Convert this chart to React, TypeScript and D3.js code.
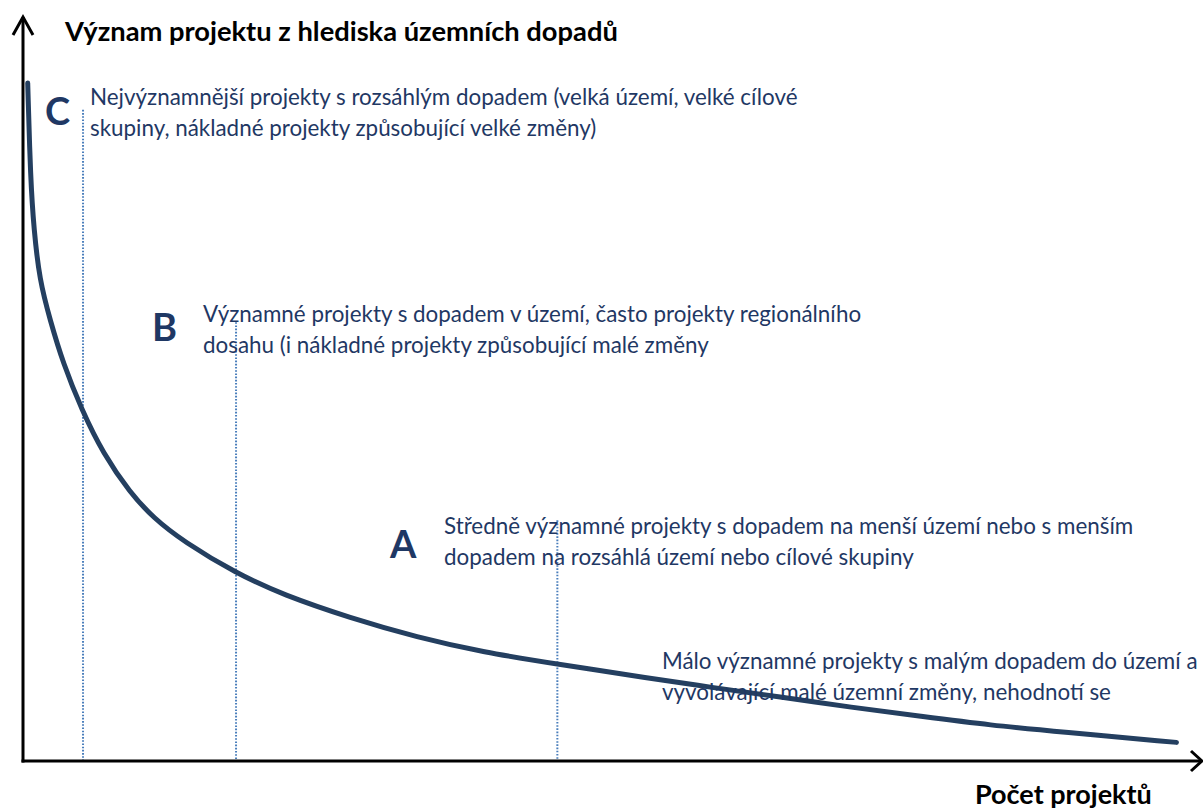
import React from 'react'
import * as d3 from 'd3'

// curve: x = number of projects, y = significance (both 0..100)
const curveX = [0.4, 0.64, 0.93, 1.4, 2.3, 3.4, 5.0, 6.8, 9.1, 11.1, 13.6, 18.1, 22.1, 27.8, 33.5, 39.1, 45.4, 53.3, 58.4, 64.3, 70.4, 76.3, 82.2, 88.2, 98.0]
const curveY = [91.0, 78.0, 71.3, 64.6, 59.2, 53.4, 47.1, 41.3, 36.0, 32.6, 29.5, 25.2, 22.3, 19.2, 16.6, 14.6, 13.0, 11.1, 9.9, 8.6, 7.2, 6.0, 4.8, 3.9, 2.5]

// group boundaries (dotted lines) and how high they reach
const boundaryX = [5.1, 18.1, 45.4]
const boundaryTop = [87.4, 58.9, 32.3]

const groupLetters = ['C', 'B', 'A']
const groupText = [
  ['Nejvýznamnější projekty s rozsáhlým dopadem (velká území, velké cílové', 'skupiny, nákladné projekty způsobující velké změny)'],
  ['Významné projekty s dopadem v území, často projekty regionálního', 'dosahu (i nákladné projekty způsobující malé změny'],
  ['Středně významné projekty s dopadem na menší území nebo s menším', 'dopadem na rozsáhlá území nebo cílové skupiny'],
  ['Málo významné projekty s malým dopadem do území a', 'vyvolávající malé územní změny, nehodnotí se']
]

const yTitle = 'Význam projektu z hlediska územních dopadů'
const xTitle = 'Počet projektů'

const W = 1203
const H = 811
const font = 'Lato, "Open Sans", sans-serif'
const navy = '#1f3864'

export default function App() {
  const x = d3.scaleLinear().domain([0, 100]).range([23, 1200])
  const y = d3.scaleLinear().domain([0, 100]).range([761, 16])

  const pts: [number, number][] = curveX.map((v, i) => [v, curveY[i]])
  const line = d3.line<[number, number]>()
    .x(d => x(d[0]))
    .y(d => y(d[1]))
    .curve(d3.curveBasis)

  const x0 = x(0)
  const y0 = y(0)

  // label positions (layout only)
  const letterPos = [[45, 125], [152, 341], [390, 558]]
  const textPos = [[90, 105], [203, 322], [444, 534], [662, 669]]

  return (
    <svg width={W} height={H} style={{ position: 'absolute', left: 0, top: 0, background: '#fff' }}>
      {boundaryX.map((b, i) => (
        <line key={i} x1={x(b)} x2={x(b)} y1={y(boundaryTop[i])} y2={y0}
          stroke="#4a7ebb" strokeWidth={2} strokeDasharray="1.6 1.6" />
      ))}

      {/* axes */}
      <g stroke="#000" strokeWidth={3} fill="none">
        <line x1={x0} x2={x0} y1={y(100) + 1} y2={y0 + 1.5} />
        <line x1={x0 - 1.5} x2={W - 1} y1={y0} y2={y0} />
        <polyline points={`${x0 - 10},${y(100) + 19} ${x0},${y(100) + 1} ${x0 + 10},${y(100) + 19}`} />
        <polyline points={`${W - 12},${y0 - 10} ${W - 1},${y0} ${W - 12},${y0 + 10}`} />
      </g>

      <path d={line(pts) ?? ''} fill="none" stroke="#243f60" strokeWidth={5} strokeLinecap="round" />

      <text x={65} y={41} fontFamily={font} fontWeight={700} fontSize={27.3} fill="#000">{yTitle}</text>
      <text x={975} y={804} fontFamily={font} fontWeight={700} fontSize={27} fill="#000">{xTitle}</text>

      {groupLetters.map((l, i) => (
        <text key={l} x={letterPos[i][0]} y={letterPos[i][1]} fontFamily={font} fontWeight={700}
          fontSize={38} fill={navy}>{l}</text>
      ))}

      {groupText.map((lines, i) => (
        <text key={i} fontFamily={font} fontSize={22.4} fill={navy}>
          {lines.map((t, j) => (
            <tspan key={j} x={textPos[i][0]} y={textPos[i][1] + j * 30.5}>{t}</tspan>
          ))}
        </text>
      ))}
    </svg>
  )
}
